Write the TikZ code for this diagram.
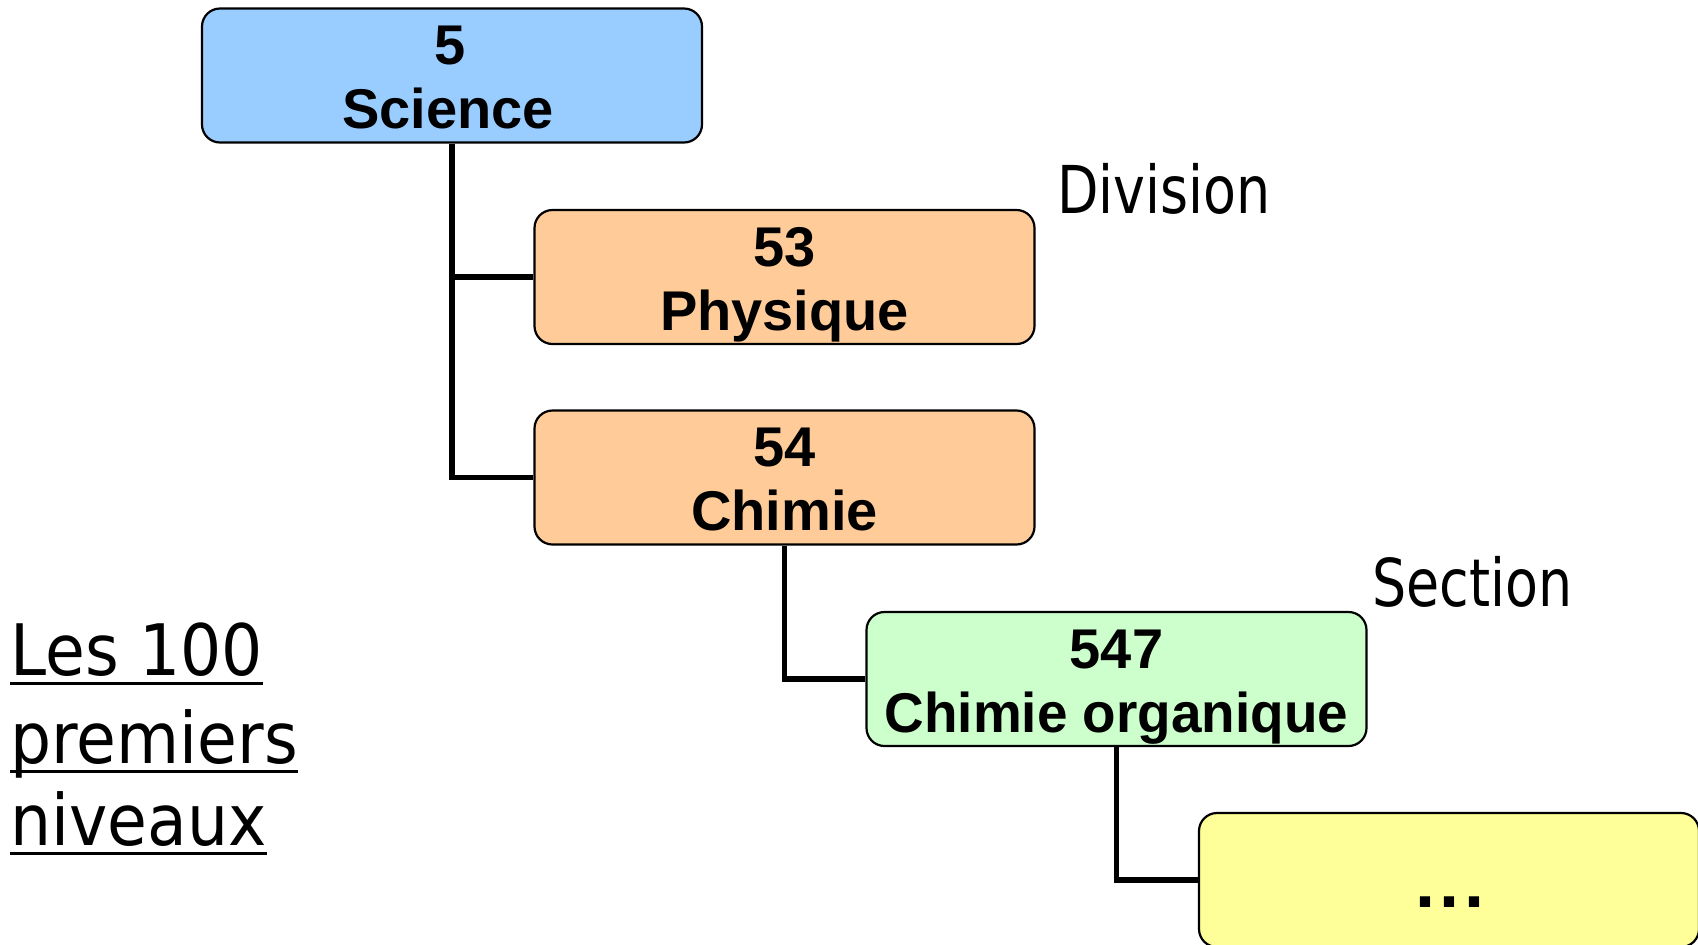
\documentclass[tikz,border=0pt]{standalone}
\usepackage{fontspec}
\setmainfont{Liberation Sans}
\newfontfamily\lblfont{DejaVu Sans}
\usetikzlibrary{calc}
\definecolor{cblue}{HTML}{99CCFF}
\definecolor{corange}{HTML}{FFCC99}
\definecolor{cgreen}{HTML}{CCFFCC}
\definecolor{cyellow}{HTML}{FFFF99}
\newcommand{\ulx}[1]{\setbox0\hbox{#1}\rlap{\rule[-5pt]{\wd0}{1.5pt}}\box0}
\begin{document}
\begin{tikzpicture}[x=0.5pt,y=-0.5pt,
  box/.style={draw=black, line width=1.1pt, rounded corners=9pt,
    minimum width=250pt, minimum height=67pt, inner sep=0pt},
  conn/.style={line width=2.6pt},
  boxtxt/.style={anchor=base, inner sep=0pt, font=\bfseries\fontsize{28}{28}\selectfont},
  lbl/.style={anchor=base west, inner sep=0pt, font=\lblfont\fontsize{33}{33}\selectfont},
  side/.style={anchor=base west, inner sep=0pt, font=\lblfont\fontsize{35.5}{35.5}\selectfont}]
\useasboundingbox (0,0) rectangle (1698,944);
% boxes
\node[box, fill=cblue]   (sci)  at (452,75.5)   {};
\node[box, fill=corange] (phy)  at (784.5,277)  {};
\node[box, fill=corange] (chi)  at (784.5,477.5){};
\node[box, fill=cgreen]  (org)  at (1116.5,679) {};
\node[box, fill=cyellow] (dots) at (1449,880)   {};
% connectors
\draw[conn] (sci.south) |- (chi.west);
\draw[conn] (sci.south |- phy.west) -- (phy.west);
\draw[conn] (chi.south) |- (org.west);
\draw[conn] (org.south) |- (dots.west);
% box texts
\node[boxtxt] (scin) at ($(sci.center)+(-2,-11)$) {5};
\node[boxtxt] (scit) at ($(sci.center)+(-4,53)$) {Science};
\node[boxtxt] (phyn) at ($(phy.center)+(0,-11)$) {53};
\node[boxtxt] (phyt) at ($(phy.center)+(0,53)$) {Physique};
\node[boxtxt] (chin) at ($(chi.center)+(0,-11)$) {54};
\node[boxtxt] (chit) at ($(chi.center)+(0,53)$) {Chimie};
\node[boxtxt] (orgn) at ($(org.center)+(0,-11)$) {547};
\node[boxtxt] (orgt) at ($(org.center)+(0,53)$) {\scalebox{0.98}[1]{Chimie organique}};
\node[boxtxt, font=\bfseries\fontsize{36}{36}\selectfont] (dotst) at ($(dots.center)+(1,27)$) {.\kern2.5pt.\kern2.5pt.};
% level labels
\node[lbl] (div) at (1057,213) {\scalebox{0.816}[1]{Division}};
\node[lbl] (sec) at (1372,606) {\scalebox{0.816}[1]{Section}};
% side text
\node[side] (l1) at (10,675) {\scalebox{0.912}[1]{\ulx{Les 100}}};
\node[side] (l2) at (10,763) {\scalebox{0.912}[1]{\ulx{premiers}}};
\node[side] (l3) at (10,845) {\scalebox{0.912}[1]{\ulx{niveaux}}};
\end{tikzpicture}
\end{document}
